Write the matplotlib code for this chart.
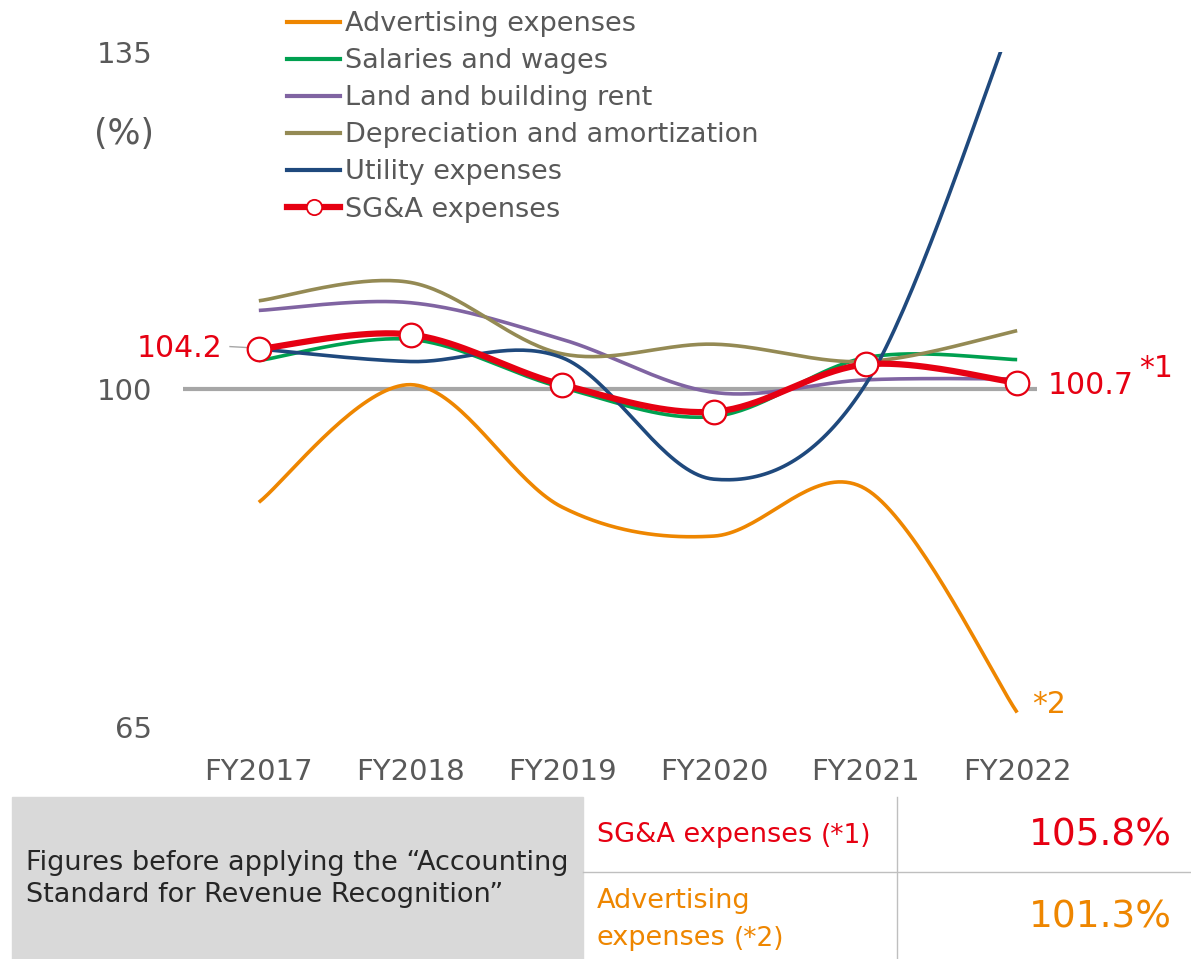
import numpy as np
import matplotlib.pyplot as plt
from matplotlib.patches import Rectangle
from matplotlib.lines import Line2D

years = ['FY2017', 'FY2018', 'FY2019', 'FY2020', 'FY2021', 'FY2022']
advertising = [88.3, 100.5, 87.8, 84.8, 89.7, 66.5]
salaries = [103.0, 105.2, 100.2, 97.2, 103.3, 103.1]
land_rent = [108.2, 109.0, 105.2, 99.7, 101.0, 101.1]
depreciation = [109.2, 111.1, 103.7, 104.7, 102.9, 106.1]
utility = [104.2, 102.9, 103.3, 90.7, 100.5, 139.7]
sga = [104.2, 105.7, 100.5, 97.7, 102.6, 100.7]

before_std_values = [105.8, 101.3]

TXT = '#595959'
RED = '#E60012'
ORANGE = '#EE8600'


def smooth(x, y, n=40):
    # Bezier smoothing between points, control points from neighbours
    pts = np.column_stack([x, y]).astype(float)
    p = np.vstack([pts[0], pts, pts[-1]])
    out = []
    for i in range(1, len(p) - 2):
        p0, p1, p2, p3 = p[i - 1], p[i], p[i + 1], p[i + 2]
        c1 = p1 + (p2 - p0) / 6
        c2 = p2 - (p3 - p1) / 6
        t = np.linspace(0, 1, n)[:, None]
        seg = ((1 - t) ** 3 * p1 + 3 * (1 - t) ** 2 * t * c1
               + 3 * (1 - t) * t ** 2 * c2 + t ** 3 * p2)
        out.append(seg if i == 1 else seg[1:])
    seg = np.vstack(out)
    return seg[:, 0], seg[:, 1]


plt.rcParams['font.family'] = ['DejaVu Sans']
fig = plt.figure(figsize=(11.91, 9.59), dpi=100)
ax = fig.add_axes([183 / 1191, 1 - 727 / 959, 910 / 1191, 675 / 959])

x = np.arange(len(years))
ax.hlines(100, -0.5, 5.13, color='#A6A6A6', lw=3, zorder=1)

series = [
    ('Advertising expenses', advertising, ORANGE),
    ('Salaries and wages', salaries, '#00A050'),
    ('Land and building rent', land_rent, '#8064A2'),
    ('Depreciation and amortization', depreciation, '#948A54'),
    ('Utility expenses', utility, '#1F497D'),
]
handles = []
for name, vals, col in series:
    sx, sy = smooth(x, vals)
    ax.plot(sx, sy, color=col, lw=2.6, zorder=2, solid_capstyle='butt')
    handles.append(Line2D([], [], color=col, lw=3, label=name))

sx, sy = smooth(x, sga)
ax.plot(sx, sy, color=RED, lw=4.5, zorder=3)
ax.plot(x, sga, 'o', ms=17, mfc='white', mec=RED, mew=1.6, zorder=4)
handles.append(Line2D([], [], color=RED, lw=4.5, marker='o', ms=11,
                      mfc='white', mec=RED, mew=1.3, label='SG&A expenses'))

ax.set_xlim(-0.5, 5.5)
ax.set_ylim(65, 135)
ax.set_xticks(x)
ax.set_xticklabels(years, fontsize=21, color=TXT)
ax.set_yticks([65, 100, 135])
ax.set_yticklabels(['65', '100', '135'], fontsize=21, color=TXT)
ax.tick_params(length=0, axis='x', pad=22)
ax.tick_params(length=0, axis='y', pad=22)
for s in ax.spines.values():
    s.set_visible(False)

ax.text(-0.89, 126.5, '(%)', fontsize=25, color=TXT, ha='center', va='center')

# value labels
ax.text(-0.24, 104.3, f'{sga[0]:.1f}', fontsize=21.5, color=RED, ha='right', va='center')
ax.plot([-0.19, -0.02], [sga[0] + 0.25, sga[0] + 0.1], color='#A6A6A6', lw=1)
lbl = ax.text(5.2, 100.45, f'{sga[-1]:.1f}', fontsize=21.5, color=RED, ha='left', va='center')
ax.annotate('*1', xy=(1, 0.75), xycoords=lbl, xytext=(4, -4), textcoords='offset points',
            fontsize=21.5, color=RED, ha='left', va='bottom', annotation_clip=False)
ax.text(5.1, 67.3, '*2', fontsize=21.5, color=ORANGE, ha='left', va='center')

leg = ax.legend(handles=handles, loc='upper left', bbox_to_anchor=(287 / 1191, 1 - 11 / 959),
                bbox_transform=fig.transFigure, frameon=False, fontsize=19.5,
                handlelength=1.96, handletextpad=0.18, labelspacing=0.41,
                borderpad=0, borderaxespad=0)
for t in leg.get_texts():
    t.set_color(TXT)

# table of figures before the revenue recognition standard
fig.patches.append(Rectangle((12 / 1191, 0), 571 / 1191, 162 / 959,
                             transform=fig.transFigure, color='#D9D9D9', zorder=0))
fig.add_artist(Line2D([583 / 1191, 1], [1 - 872 / 959] * 2, color='#BFBFBF', lw=1))
fig.add_artist(Line2D([897 / 1191] * 2, [0, 1 - 797 / 959], color='#BFBFBF', lw=1))
fig.text(26 / 1191, 1 - 879 / 959,
         'Figures before applying the \u201cAccounting\nStandard for Revenue Recognition\u201d',
         fontsize=19.5, color='#262626', va='center', ha='left', linespacing=1.3)

t1 = fig.text(597 / 1191, 1 - 835 / 959, 'SG&A expenses', fontsize=19.5, color=RED,
              va='center', ha='left')
ax.annotate('(*1)', xy=(1, 0.45), xycoords=t1, xytext=(6, 0), textcoords='offset points',
            fontsize=19, color=RED, va='center', ha='left', annotation_clip=False)
fig.text(1172 / 1191, 1 - 836 / 959, f'{before_std_values[0]:.1f}%', fontsize=27, color=RED,
         va='center', ha='right')

fig.text(597 / 1191, 1 - 901 / 959, 'Advertising', fontsize=19.5, color=ORANGE,
         va='center', ha='left')
t2 = fig.text(597 / 1191, 1 - 938 / 959, 'expenses', fontsize=19.5, color=ORANGE,
              va='center', ha='left')
ax.annotate('(*2)', xy=(1, 0.45), xycoords=t2, xytext=(6, 0), textcoords='offset points',
            fontsize=19, color=ORANGE, va='center', ha='left', annotation_clip=False)
fig.text(1172 / 1191, 1 - 918 / 959, f'{before_std_values[1]:.1f}%', fontsize=27, color=ORANGE,
         va='center', ha='right')

fig.savefig('out.png', dpi=100)
